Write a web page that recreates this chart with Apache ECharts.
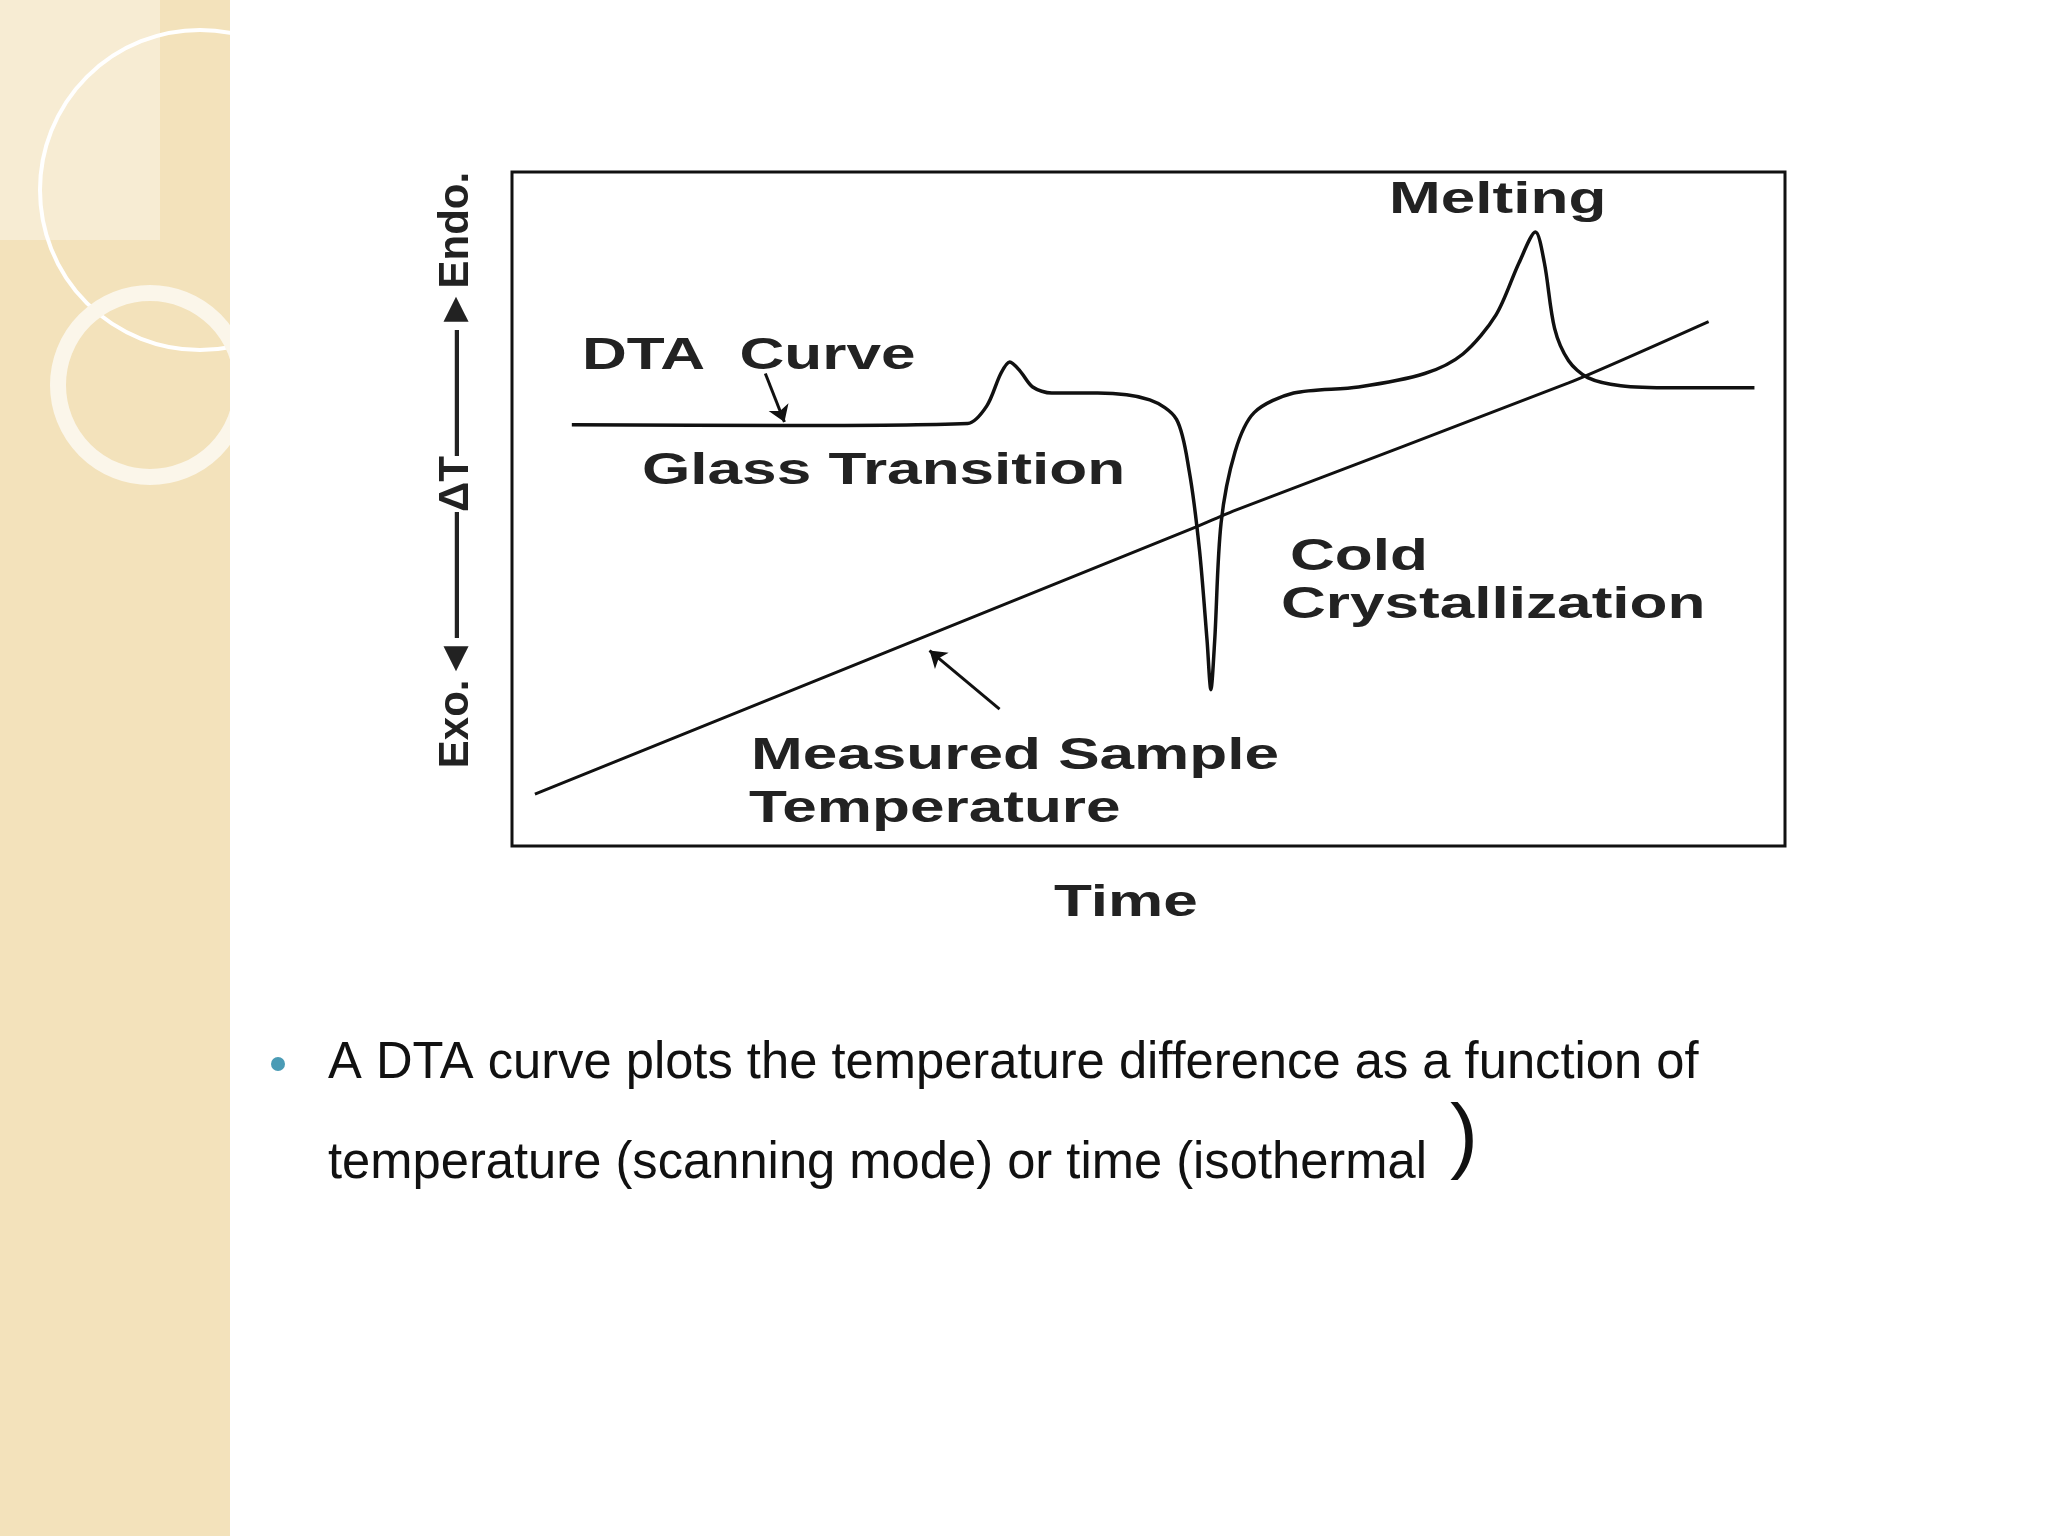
<!DOCTYPE html>
<html><head><meta charset="utf-8">
<script src="https://cdn.jsdelivr.net/npm/echarts@6/dist/echarts.min.js"></script>
<style>html,body{margin:0;padding:0;background:#fff}#c{width:2048px;height:1536px}</style>
</head><body><div id="c"></div>
<script>
const dtaX = [4.7,21.4,35.8,37.3,38.4,39.1,39.9,40.9,42.4,46.0,50.1,52.2,53.2,54.0,54.6,54.9,55.2,55.7,56.8,58.3,61.4,66.5,71.7,74.7,77.3,79.1,80.4,81.1,81.9,83.0,84.5,87.1,91.2,97.6];
const dtaY = [62.5,62.4,62.7,65.3,70.1,71.8,70.5,68.1,67.2,67.2,66.2,63.3,55.6,44.0,30.5,23.2,30.5,47.9,58.5,64.3,67.2,68.1,70.1,73.0,78.8,86.5,91.1,86.5,76.8,72.0,69.5,68.3,68.0,68.0];
const tempX = [1.8,53.7,56.8,83.0,94.0];
const tempY = [7.7,47.3,49.8,68.7,77.8];
const arrowDTA = [[19.9,70.1],[21.4,62.9]];
const arrowTemp = [[38.3,20.3],[32.8,29.0]];
const labels = {dta:'DTA  Curve', glass:'Glass Transition', melt:'Melting', cold:'Cold', cryst:'Crystallization', meas:'Measured Sample', temp:'Temperature', time:'Time'};
const yLabel = 'Exo.◄———ΔT———►Endo.';
const bullet1 = 'A DTA curve plots the temperature difference as a function of';
const bullet2 = 'temperature (scanning mode) or time (isothermal';

const ch = echarts.init(document.getElementById('c'));
const lab = {fontFamily:'Liberation Sans, Arial', fontWeight:'bold', fontSize:45, fill:'#222', verticalAlign:'middle'};
const T = (t,x,y) => ({type:'text', x:x, y:y, scaleX:1.38, style:Object.assign({}, lab, {text:t}), z:10});
const bf = 'Liberation Sans, Arial';
ch.setOption({
  animation:false,
  backgroundColor:'#fff',
  grid:{left:512, right:263, top:172, bottom:690, show:true, borderColor:'#111', borderWidth:3},
  xAxis:{type:'value', min:0, max:100, show:false},
  yAxis:{type:'value', min:0, max:100, show:false},
  graphic:[
    {type:'rect', shape:{x:0,y:0,width:230,height:1536}, style:{fill:'#f3e2bb'}, z:0},
    {type:'rect', shape:{x:0,y:0,width:160,height:240}, style:{fill:'#f7ecd3'}, z:0},
    {type:'circle', shape:{cx:200,cy:190,r:160}, style:{fill:'none', stroke:'#fff', lineWidth:4}, z:1},
    {type:'circle', shape:{cx:150,cy:385,r:92}, style:{fill:'none', stroke:'#fbf6ea', lineWidth:16}, z:1},
    {type:'rect', shape:{x:230,y:0,width:260,height:1536}, style:{fill:'#fff'}, z:2},
    T(labels.dta,582,357), T(labels.glass,642,472), T(labels.melt,1389,201),
    T(labels.cold,1290,558), T(labels.cryst,1281,606), T(labels.meas,751,757), T(labels.temp,749,810),
    T(labels.time,1054,904),
    {type:'text', x:456, y:470, rotation:Math.PI/2, style:Object.assign({},lab,{text:yLabel, fontSize:42, align:'center'}), z:10},
    {type:'circle', shape:{cx:278,cy:1064,r:7}, style:{fill:'#4a9bb5'}, z:10},
    {type:'text', x:328, y:1064, scaleX:0.975, style:{text:bullet1, fontFamily:bf, fontSize:52, fill:'#111', verticalAlign:'middle'}, z:10},
    {type:'text', x:328, y:1164, scaleX:0.975, style:{text:bullet2, fontFamily:bf, fontSize:52, fill:'#111', verticalAlign:'middle'}, z:10},
    {type:'text', x:1450, y:1140, style:{text:')', fontFamily:bf, fontSize:84, fill:'#111', verticalAlign:'middle'}, z:10}
  ],
  series:[
    {type:'line', data:dtaX.map((x,i)=>[x,dtaY[i]]), smooth:0.3, showSymbol:false, lineStyle:{color:'#111', width:3.5}},
    {type:'line', data:tempX.map((x,i)=>[x,tempY[i]]), smooth:0.2, showSymbol:false, lineStyle:{color:'#111', width:3}},
    {type:'lines', coordinateSystem:'cartesian2d', symbol:['none','arrow'], symbolSize:16,
     lineStyle:{color:'#111', width:3, opacity:1}, data:[{coords:arrowDTA},{coords:arrowTemp}]}
  ]
});
</script></body></html>
